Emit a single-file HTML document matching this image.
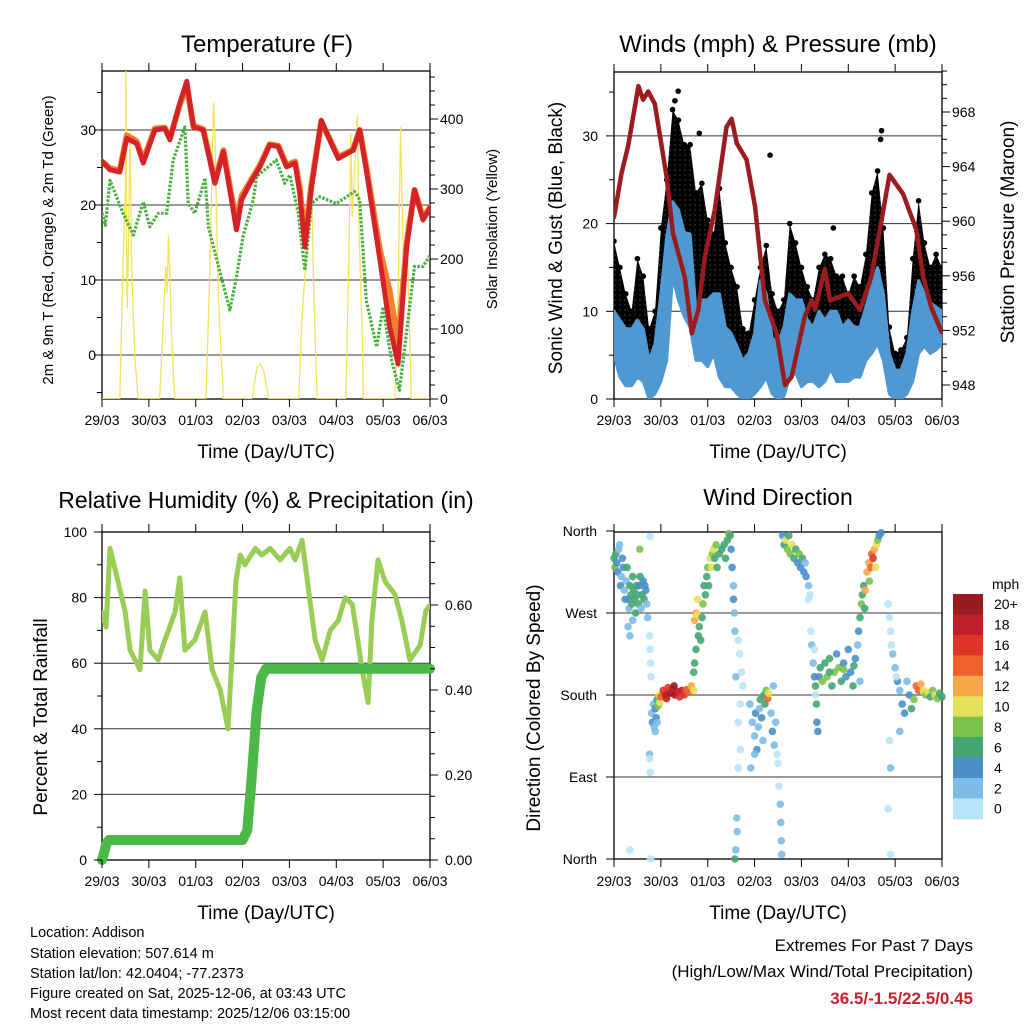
<!DOCTYPE html>
<html><head><meta charset="utf-8"><title>Addison station plots</title>
<style>
html,body{margin:0;padding:0;background:#fff;}
svg{display:block;font-family:"Liberation Sans",Arial,sans-serif;}
</style></head>
<body>
<svg id="fig" width="1024" height="1024" viewBox="0 0 1024 1024">
<defs>
<clipPath id="cT"><rect x="102" y="71" width="328" height="328"/></clipPath>
<clipPath id="cW"><rect x="614" y="72" width="328" height="327"/></clipPath>
<clipPath id="cR"><rect x="102" y="532" width="328" height="328"/></clipPath>
<clipPath id="cD"><rect x="610" y="528" width="336" height="335"/></clipPath>
<pattern id="dotPat" width="5" height="5" patternUnits="userSpaceOnUse">
<circle cx="2.5" cy="2.5" r="3.2" fill="#000"/>
</pattern>
</defs>
<text x="267" y="52" font-size="24" text-anchor="middle">Temperature (F)</text>
<text x="778" y="52" font-size="24" text-anchor="middle">Winds (mph) &amp; Pressure (mb)</text>
<text x="266" y="508" font-size="23" text-anchor="middle">Relative Humidity (%) &amp; Precipitation (in)</text>
<text x="778" y="505" font-size="23" text-anchor="middle">Wind Direction</text>
<text x="266" y="458" font-size="19" text-anchor="middle">Time (Day/UTC)</text>
<text x="778" y="458" font-size="19" text-anchor="middle">Time (Day/UTC)</text>
<text x="266" y="919" font-size="19" text-anchor="middle">Time (Day/UTC)</text>
<text x="778" y="919" font-size="19" text-anchor="middle">Time (Day/UTC)</text>
<text transform="translate(53,240) rotate(-90)" font-size="15" text-anchor="middle">2m &amp; 9m T (Red, Orange) &amp; 2m Td (Green)</text>
<text transform="translate(497,229) rotate(-90)" font-size="15" text-anchor="middle">Solar Insolation (Yellow)</text>
<text transform="translate(562,238) rotate(-90)" font-size="19" text-anchor="middle">Sonic Wind &amp; Gust (Blue, Black)</text>
<text transform="translate(1014,232) rotate(-90)" font-size="19" text-anchor="middle">Station Pressure (Maroon)</text>
<text transform="translate(47,717) rotate(-90)" font-size="19" text-anchor="middle">Percent &amp; Total Rainfall</text>
<text transform="translate(540,708) rotate(-90)" font-size="19" text-anchor="middle">Direction (Colored By Speed)</text>
<g font-size="14.5">
<text x="30" y="937">Location: Addison</text>
<text x="30" y="958">Station elevation: 507.614 m</text>
<text x="30" y="978">Station lat/lon: 42.0404; -77.2373</text>
<text x="30" y="998">Figure created on Sat, 2025-12-06, at 03:43 UTC</text>
<text x="30" y="1018">Most recent data timestamp: 2025/12/06 03:15:00</text>
</g>
<text x="973" y="951" font-size="17" text-anchor="end">Extremes For Past 7 Days</text>
<text x="973" y="977" font-size="17" text-anchor="end">(High/Low/Max Wind/Total Precipitation)</text>
<text x="973" y="1004" font-size="17" font-weight="bold" fill="#c8202a" text-anchor="end">36.5/-1.5/22.5/0.45</text>
<g id="root"></g>
</svg>
<script>
// ---------- data ----------
const dayLabels = ["29/03","30/03","01/03","02/03","03/03","04/03","05/03","06/03"];
const tempTimes = [0,0.17,0.38,0.53,0.74,0.88,1.13,1.34,1.45,1.66,1.81,1.95,2.16,2.41,2.59,2.87,2.98,3.16,3.37,3.58,3.76,3.94,4.12,4.22,4.33,4.47,4.68,4.86,5.04,5.36,5.5,5.64,5.93,6.14,6.32,6.5,6.67,6.85,7];
const temp2m =    [25.8,24.7,24.4,28.9,28.2,25.6,30,30.2,28.7,33.6,36.5,30.4,30,22.9,27.1,16.7,20.7,22.9,25.1,28,27.8,25.1,25.6,21.6,14.4,22.4,31.3,28.7,26.2,27.3,30,24.7,12.7,3.8,-1.2,14.4,22,18,19.6];
const temp9m =    [25.8,24.9,24.6,29.3,28.5,26.0,30.2,30.3,28.9,33.4,35.8,30.6,30.1,23.2,27.3,17.5,21.2,23.1,25.3,28.1,27.9,25.3,25.8,22.4,15.5,22.8,31.1,28.8,26.4,27.4,30,25.1,14,8.5,1.5,14.8,22,18.3,19.7];
const dewTimes = [0,0.07,0.17,0.45,0.67,0.88,1.02,1.2,1.38,1.52,1.77,1.84,1.98,2.2,2.27,2.45,2.73,2.87,3.01,3.23,3.3,3.72,3.9,4.01,4.19,4.33,4.47,4.65,5.0,5.39,5.5,5.64,5.86,6.0,6.18,6.35,6.67,6.85,7];
const dew2m =    [18.9,17.3,23.3,18.9,16,20.4,17.1,18.9,18.9,26,30.4,20.2,18.9,23.6,17.1,12.7,6,10.4,15.8,20.7,23.8,26,22.9,24,18.9,11.3,20.2,21.1,20.2,21.8,20.7,7.3,1.1,6.4,-0.7,-4.7,11.8,11.8,13.3];
const solarTimes = [0,0.38,0.45,0.5,0.51,0.52,0.54,0.56,0.6,0.63,0.7,0.77,1.23,1.3,1.36,1.39,1.42,1.46,1.47,1.52,1.56,2.22,2.31,2.38,2.41,2.48,2.59,3.2,3.31,3.38,3.45,3.56,4.2,4.27,4.38,4.41,4.47,4.52,4.59,5.2,5.27,5.31,5.34,5.45,5.48,5.55,5.58,6.25,6.32,6.37,6.43,6.5,6.6,7];
const solarVals  = [0,0,199,300,480,250,130,200,383,200,60,0,0,100,190,151,234,150,120,40,0,0,200,423,380,150,0,0,46,50,40,0,0,120,220,260,310,150,0,0,200,380,260,406,250,100,0,0,150,389,200,255,0,0];

const windTimes = [0,0.125,0.25,0.375,0.5,0.625,0.75,0.875,1,1.125,1.25,1.375,1.5,1.625,1.75,1.875,2,2.125,2.25,2.375,2.5,2.625,2.75,2.875,3,3.125,3.25,3.375,3.5,3.625,3.75,3.875,4,4.125,4.25,4.375,4.5,4.625,4.75,4.875,5,5.125,5.25,5.375,5.5,5.625,5.75,5.875,6,6.125,6.25,6.375,6.5,6.625,6.75,6.875,7];
const gustHi = [18,15,12,10,16,14,8,10,19.5,25,33,31.8,29,29,23.5,24.6,20.4,18.8,24,17.8,15,12.8,8,7.5,11.3,15,17.5,12,10,11.3,20,17.8,15,12.8,11.3,15,16.5,16,14,14,12,14,12.8,16.5,23.5,26,19.5,8.2,5.2,5.6,7,16,22.6,17.8,15,16.5,15];
const gustLo = [5,4.5,4,4.5,7,5.5,0.6,2.5,5.2,7.5,14,15.8,15,12,9,11.3,9,9.8,8.2,4.4,4.4,2.5,0,0.6,1.4,3,4.4,1.8,0.6,0.6,5.6,6.3,4.4,5.2,5.2,4.4,7,6.3,5.2,7,5.2,6.3,5.6,5.6,8.2,7.5,6.7,2,0.3,0.6,1.8,4.4,8.2,9,8.2,9,9];
const windHi = [10,9,8,8,9,8,4.4,6.3,12,18.5,22.5,21.6,19,18.8,10,11.3,11.3,12,12,8.2,7.5,6,4.4,5.2,7.5,13.5,12,7,6.3,8.2,12,11.3,11.3,9,8.2,10,9,10,10,8.2,9,8.2,8.2,10.5,12.8,15,12,5.2,3.3,3.3,5.2,10,13.5,12,11,10.5,10];
const windLo = [5,2.5,1.5,1.5,2.5,2,0,0.6,2,4.4,14,11.3,9.4,8.2,4.4,4.4,3.7,5.2,2.5,1.4,1.4,0.6,0,0,0.6,1.4,2.5,0.6,0,0.3,2.5,3,1.4,2,2,1.4,2,3.4,2,2,2,2.5,2.5,4.4,5.2,6.3,4.4,0.6,0,0,0.6,2,5.2,6,5.2,5.6,6.3];
const gustOutlierTimes = [1.37,1.82,3.33,5.71,5.69,4.68,1.3];
const gustOutlierVals  = [35.1,30.3,27.8,30.6,29.6,19.5,34];
const presTimes = [0,0.16,0.3,0.52,0.62,0.73,0.87,1.12,1.26,1.51,1.66,1.8,1.94,2.15,2.4,2.51,2.62,2.83,3.01,3.22,3.47,3.65,3.79,4.07,4.22,4.29,4.5,4.61,5.0,5.25,5.49,5.71,5.88,6.17,6.45,6.6,6.77,6.99];
const presVals  = [960.3,963.5,965.5,969.9,968.9,969.5,968.6,963.3,959.1,955.9,951.8,953.5,957.4,960.8,966.9,967.5,965.7,964.5,961.1,954.2,951.8,948,948.6,953,954.2,953.5,956.5,954.2,954.7,953.5,955.9,960.1,963.4,962,959.4,955.9,953.7,951.9];

const rhTimes = [0,0.085,0.17,0.256,0.34,0.49,0.6,0.81,0.92,1.02,1.2,1.34,1.56,1.66,1.77,1.98,2.2,2.35,2.52,2.69,2.77,2.86,2.95,3.05,3.27,3.41,3.59,3.8,4.01,4.12,4.27,4.44,4.55,4.7,4.87,5.04,5.19,5.34,5.46,5.55,5.68,5.76,5.89,6.04,6.25,6.4,6.57,6.79,6.91,7];
const rhVals  = [75.6,71,95,90,85,76,64,58,82,64,61,67,75.6,86,64,67,75.6,58,52,40,61,85,93,90,95,93,95,91.5,95,91.5,97.5,79,67,61,70,73,80,78,67,58,48,73,91.5,85,81,73,61,65.5,76,77.7];
const precipTimes = [0,0.1,0.15,3.0,3.1,3.2,3.3,3.4,3.5,7];
const precipVals  = [0,0.04,0.047,0.047,0.07,0.2,0.35,0.43,0.45,0.45];

const dirTime = [0,0.02,0.04,0.06,0.08,0.1,0.12,0.14,0.16,0.18,0.2,0.22,0.24,0.26,0.28,0.3,0.32,0.34,0.36,0.38,0.4,0.42,0.44,0.46,0.48,0.5,0.52,0.54,0.56,0.58,0.6,0.62,0.64,0.66,0.68,0.7,0.72,0.3,0.34,0.4,0.55,
0.76,0.77,0.78,0.79,0.76,0.76,0.77,0.78,0.77,0.34,
0.8,0.82,0.84,0.86,0.88,0.9,0.92,0.94,0.96,0.98,1.0,1.05,1.1,1.15,1.2,1.25,1.3,1.35,1.4,1.45,1.5,1.55,1.6,1.65,1.7,0.88,0.92,1.12,1.28,
1.7,1.72,1.75,1.72,1.75,1.78,1.78,1.8,1.82,1.85,1.88,1.9,1.92,1.95,1.98,2.0,2.02,2.05,2.08,2.1,2.12,2.15,2.18,2.2,2.25,2.3,2.35,2.38,2.42,2.45,2.48,2.5,2.52,2.55,2.55,2.57,2.58,2.6,
2.65,2.68,2.72,2.75,2.7,2.65,2.7,2.65,2.62,2.63,2.6,2.58,
2.9,2.95,3.0,3.02,3.05,3.08,3.1,3.12,3.15,3.18,3.2,3.22,3.25,3.28,3.3,3.35,3.38,3.42,3.45,3.48,3.5,3.52,3.55,3.56,3.57,3.58,3.0,2.92,3.4,
3.6,3.63,3.66,3.7,3.73,3.76,3.8,3.84,3.88,3.92,3.95,3.98,4.02,4.05,4.08,4.1,4.15,4.18,4.15,
4.2,4.22,4.25,4.28,4.3,4.32,4.33,4.35,4.38,4.4,4.45,4.5,4.55,4.6,4.65,4.7,4.75,4.8,4.85,4.9,4.95,5.0,5.05,5.1,5.15,5.2,5.22,5.25,4.28,4.3,4.6,4.9,5.12,
5.25,5.28,5.3,5.33,5.36,5.4,5.44,5.48,5.5,5.53,5.56,5.6,5.63,5.66,5.7,5.58,5.45,5.35,
5.85,5.88,5.9,5.92,5.88,5.9,5.85,5.9,
5.95,6.0,6.05,6.1,6.15,6.2,6.25,6.3,6.35,6.4,6.45,6.5,6.55,6.6,6.65,6.7,6.75,6.8,6.85,6.9,6.95,7.0,6.1,6.02];
const dirDeg = [330,320,335,325,315,340,345,300,310,330,320,295,285,305,320,285,275,300,290,280,310,295,285,270,300,290,280,300,310,275,290,305,285,300,295,280,265,255,245,262,340,
245,230,215,200,115,110,95,0,354,10,
160,150,170,145,165,155,175,168,180,172,178,185,180,188,182,186,180,184,178,185,180,186,183,190,185,140,150,176,190,
205,215,230,262,270,268,285,245,255,240,265,280,300,290,310,320,300,330,320,335,340,330,345,320,335,340,345,330,350,357,355,340,320,300,285,270,250,200,
240,225,205,190,170,150,120,100,45,30,10,0,
170,150,135,160,120,145,165,175,155,130,180,170,185,176,182,160,140,125,150,115,105,80,60,40,20,5,115,100,190,
355,345,350,340,355,335,345,330,340,325,335,320,330,315,325,310,300,290,285,
250,235,215,200,190,170,150,140,200,210,195,215,200,220,190,205,225,210,195,215,200,230,205,190,220,235,250,195,230,180,205,208,212,
265,280,290,300,295,315,325,320,335,330,340,345,350,355,358,320,305,275,
280,265,250,235,130,100,55,5,
225,210,195,185,170,160,195,180,165,175,190,185,192,185,180,183,178,185,180,176,182,178,140,200];
const dirSpeed = [6,8,6,4,5,3,3,4,3,5,4,3,4,2,6,5,3,7,6,7,7,6,7,6,7,7,6,5,6,3,6,4,7,5,4,3,3,3,2,3,8,
1,1,1,1,3,1,1,1,1,1,
3,4,3,2,4,5,6,9,11,10,14,16,18,17,20,19,20,18,17,18,16,14,15,12,10,3,2,19,21,
7,7,6,13,12,10,11,7,6,7,7,8,7,7,6,8,7,11,10,8,11,7,9,6,7,6,7,6,7,8,6,5,4,3,4,3,3,3,
1,1,1,1,1,1,1,1,3,3,3,7,
3,2,3,4,4,3,2,6,4,3,7,6,9,14,10,3,4,3,2,1,1,1,3,3,3,3,3,3,2,
4,6,10,8,7,8,10,6,7,4,8,4,6,4,3,4,2,1,1,
1,2,2,4,6,6,4,4,5,6,8,7,9,6,7,8,5,8,6,4,5,4,4,6,4,3,4,3,1,1,7,8,6,
7,8,6,7,12,13,12,15,14,16,12,11,8,5,4,11,8,6,
1,1,1,1,1,3,1,1,
2,3,4,3,4,4,2,5,7,9,14,15,12,10,8,11,7,9,10,8,7,6,3,1];

const speedBins = ["0","2","4","6","8","10","12","14","16","18","20+"];
const binColors = ["#b9e3f8","#7dbce8","#4a8fc8","#45a672","#7cc24a","#e7e05a","#f8a748","#f0622b","#de3428","#c0202a","#9b1a1f"];

// ---------- scales ----------
const DAYW = 328/7;
const xT = t => 102 + t*DAYW;
const xW = t => 614 + t*DAYW;
const yTemp = v => 355 - 7.5*v;
const ySolar = v => 399 - 0.7*v;
const yWind = v => 399 - 8.77*v;
const yPres = p => 112 + (968-p)*13.65;
const yRH = v => 860 - 3.28*v;
const yPrecip = p => 860 - 425*p;
const yDir = d => 859 - 0.9111*d;

const NS = "http://www.w3.org/2000/svg";
const root = document.getElementById("root");
function mk(parent, tag, attrs, txt){
  const e = document.createElementNS(NS, tag);
  for (const k in attrs) e.setAttribute(k, attrs[k]);
  if (txt !== undefined) e.textContent = txt;
  parent.appendChild(e);
  return e;
}
function pts(ts, vs, fx, fy){ return ts.map((t,i)=>fx(t).toFixed(1)+","+fy(vs[i]).toFixed(1)).join(" "); }

function frame(x0,y0,x1,y1,name){
  const g = mk(root,"g",{});
  
  
  const r = mk(g,"rect",{x:x0,y:y0,width:x1-x0,height:y1-y0,fill:"none",stroke:"#000","stroke-width":1.3});
  
  
  return g;
}
function hgrid(g,x0,x1,ys,name){
  ys.forEach(y=>{
    const l = mk(g,"line",{x1:x0,x2:x1,y1:y,y2:y,stroke:"#333","stroke-width":1});
    
    
  });
}
function xaxis(g,fx,y0,y1,labY,name){
  dayLabels.forEach((lab,i)=>{
    const x = fx(i);
    mk(g,"line",{x1:x,x2:x,y1:y1,y2:y1+8,stroke:"#000","stroke-width":1});
    mk(g,"line",{x1:x,x2:x,y1:y0,y2:y0-8,stroke:"#000","stroke-width":1});
    const t = mk(g,"text",{x:x,y:labY,"font-size":14,"text-anchor":"middle"},lab);
    
    
  });
}
function yticks(g,x,ys,dir,len){
  ys.forEach(y=>mk(g,"line",{x1:x,x2:x+dir*len,y1:y,y2:y,stroke:"#000","stroke-width":1}));
}
function ylabels(g,x,items,anchor,name){
  items.forEach(([y,lab])=>{
    const t = mk(g,"text",{x:x,y:y+5,"font-size":14,"text-anchor":anchor},lab);
    
    
  });
}
function range(a,b,s){const r=[];for(let v=a;v<=b+1e-9;v+=s)r.push(+v.toFixed(4));return r;}

// ---------- Temperature panel ----------
{
  const g = frame(102,71,430,399,"temperature");
  hgrid(g,102,430,[0,10,20,30].map(yTemp),"temp");
  const clip = mk(g,"g",{"clip-path":"url(#cT)"});
  const sol = mk(clip,"polyline",{points:pts(solarTimes,solarVals,xT,ySolar),fill:"none",stroke:"#f7e15a","stroke-width":1.3});
  
  
  const dw = mk(clip,"polyline",{points:pts(dewTimes,dew2m,xT,yTemp),fill:"none",stroke:"#4aae43","stroke-width":3.2,"stroke-dasharray":"2.5 1.5","stroke-linejoin":"round"});
  
  
  const o = mk(clip,"polyline",{points:pts(tempTimes,temp9m,xT,yTemp),fill:"none",stroke:"#f27f2e","stroke-width":6,"stroke-linejoin":"round","stroke-linecap":"round"});
  
  
  const r = mk(clip,"polyline",{points:pts(tempTimes,temp2m,xT,yTemp),fill:"none",stroke:"#d42228","stroke-width":5,"stroke-linejoin":"round","stroke-linecap":"round"});
  
  
  xaxis(g,xT,71,399,425,"temp");
  yticks(g,102,[0,10,20,30].map(yTemp),-1,8);
  yticks(g,102,[-5,5,15,25,35].map(yTemp),-1,5);
  ylabels(g,96,[0,10,20,30].map(v=>[yTemp(v),String(v)]),"end","temp-left");
  yticks(g,430,[0,100,200,300,400].map(ySolar),1,8);
  yticks(g,430,range(20,460,20).filter(v=>v%100).map(ySolar),1,5);
  ylabels(g,440,[0,100,200,300,400].map(v=>[ySolar(v),String(v)]),"start","solar-right");
}

// ---------- Winds panel ----------
{
  const g = frame(614,72,942,399,"winds");
  hgrid(g,614,942,[10,20,30].map(yWind),"winds");
  const clip = mk(g,"g",{"clip-path":"url(#cW)"});
  const gustBand = windTimes.map((t,i)=>xW(t).toFixed(1)+","+yWind(gustHi[i]).toFixed(1)).concat(windTimes.map((t,i)=>xW(t).toFixed(1)+","+yWind(gustLo[i]).toFixed(1)).reverse()).join(" ");
  const gb = mk(clip,"polygon",{points:gustBand,fill:"url(#dotPat)",stroke:"none"});
  
  
  windTimes.forEach((t,i)=>{
    const c = mk(clip,"circle",{cx:xW(t),cy:yWind(gustHi[i]),r:2.8,fill:"#000"});
    
    
  });
  gustOutlierTimes.forEach((t,i)=>{
    const c = mk(clip,"circle",{cx:xW(t),cy:yWind(gustOutlierVals[i]),r:2.8,fill:"#000"});
    
    
  });
  const windBand = windTimes.map((t,i)=>xW(t).toFixed(1)+","+yWind(windHi[i]).toFixed(1)).concat(windTimes.map((t,i)=>xW(t).toFixed(1)+","+yWind(windLo[i]).toFixed(1)).reverse()).join(" ");
  const wb = mk(clip,"polygon",{points:windBand,fill:"#4f98d2",stroke:"#4f98d2","stroke-width":3,"stroke-linejoin":"round"});
  
  
  const p = mk(clip,"polyline",{points:pts(presTimes,presVals,xW,yPres),fill:"none",stroke:"#9b1c1f","stroke-width":4.5,"stroke-linejoin":"round","stroke-linecap":"round"});
  
  
  xaxis(g,xW,72,399,425,"winds");
  yticks(g,614,[0,10,20,30].map(yWind),-1,8);
  yticks(g,614,[5,15,25,35].map(yWind),-1,5);
  ylabels(g,598,[0,10,20,30].map(v=>[yWind(v),String(v)]),"end","wind-left");
  yticks(g,942,[948,952,956,960,964,968].map(yPres),1,8);
  yticks(g,942,range(948,971,1).filter(v=>v%4).map(yPres),1,5);
  ylabels(g,952,[948,952,956,960,964,968].map(v=>[yPres(v),String(v)]),"start","pressure-right");
}

// ---------- Humidity panel ----------
{
  const g = frame(102,532,430,860,"humidity");
  hgrid(g,102,430,[20,40,60,80].map(yRH),"humidity");
  const clip = mk(g,"g",{"clip-path":"url(#cR)"});
  const rh = mk(clip,"polyline",{points:pts(rhTimes,rhVals,xT,yRH),fill:"none",stroke:"#9acd55","stroke-width":5,"stroke-linejoin":"round","stroke-linecap":"round"});
  
  
  const pr = mk(g,"polyline",{points:pts(precipTimes,precipVals,xT,yPrecip),fill:"none",stroke:"#4cb848","stroke-width":10,"stroke-linejoin":"round","stroke-linecap":"round"});
  
  
  xaxis(g,xT,532,860,886,"humidity");
  yticks(g,102,[0,20,40,60,80,100].map(yRH),-1,8);
  yticks(g,102,[10,30,50,70,90].map(yRH),-1,5);
  ylabels(g,87,[0,20,40,60,80,100].map(v=>[yRH(v),String(v)]),"end","humidity-left");
  yticks(g,430,[0,0.2,0.4,0.6].map(yPrecip),1,8);
  yticks(g,430,[0.05,0.1,0.15,0.25,0.3,0.35,0.45,0.5,0.55,0.65,0.7,0.75].map(yPrecip),1,5);
  ylabels(g,445,[0,0.2,0.4,0.6].map(v=>[yPrecip(v),v.toFixed(2)]),"start","precip-right");
}

// ---------- Wind direction panel ----------
{
  const g = frame(614,532,942,859,"direction");
  hgrid(g,614,942,[90,180,270].map(yDir),"direction");
  const clip = mk(g,"g",{"clip-path":"url(#cD)"});
  dirTime.forEach((t,i)=>{
    const s = dirSpeed[i];
    const bin = Math.min(10, Math.max(0, Math.floor(s/2)));
    const c = mk(clip,"circle",{cx:xW(t).toFixed(1),cy:yDir(dirDeg[i]).toFixed(1),r:3.8,fill:binColors[bin],"fill-opacity":0.9});
    
    
  });
  xaxis(g,xW,532,859,886,"direction");
  const dirLabs = [[0,"North"],[90,"East"],[180,"South"],[270,"West"],[360,"North"]];
  yticks(g,614,dirLabs.map(d=>yDir(d[0])),-1,8);
  ylabels(g,597,dirLabs.map(d=>[yDir(d[0]),d[1]]),"end","direction-left");
  // colorbar
  const cb = mk(root,"g",{});
  
  
  const mph = mk(cb,"text",{x:992,y:589,"font-size":14},"mph");
  
  
  const bh = 20.45;
  for (let k=10;k>=0;k--){
    const y = 594 + (10-k)*bh;
    const b = mk(cb,"rect",{x:953,y:y.toFixed(1),width:30,height:(bh+0.5).toFixed(1),fill:binColors[k]});
    
    
    const t = mk(cb,"text",{x:994,y:(y+bh/2+5).toFixed(1),"font-size":14},speedBins[k]);
    
    
  }
}
</script>
</body></html>
